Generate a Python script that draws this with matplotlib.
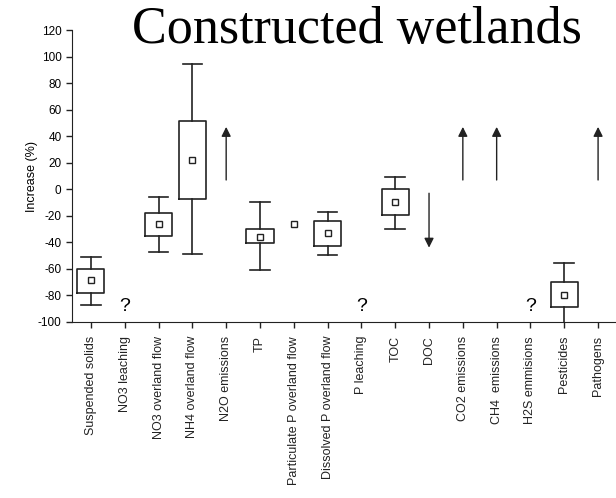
import numpy as np
import matplotlib
matplotlib.use("Agg")
import matplotlib.pyplot as plt

plt.rcParams["axes.unicode_minus"] = False

categories = ["Suspended solids", "NO3 leaching", "NO3 overland flow", "NH4 overland flow",
              "N2O emissions", "TP", "Particulate P overland flow", "Dissolved P overland flow",
              "P leaching", "TOC", "DOC", "CO2 emissions", "CH4  emissions", "H2S emmisions",
              "Pesticides", "Pathogens"]
purple = ["TP", "Particulate P overland flow", "Dissolved P overland flow",
          "P leaching", "Pesticides", "Pathogens"]

# box plot summaries (index, whisker low, q1, mean, q3, whisker high)
box_idx = [0, 2, 3, 5, 7, 9, 14]
whis_lo = [-87, -47, -49, -61, -49.5, -29.7, -105]
q1 = [-78, -35, -7, -40.7, -42.5, -19.6, -89]
mean = [-68.6, -26, 22, -36, -32.7, -9.8, -79.4]
q3 = [-59.8, -18, 51.7, -30, -23.6, 0, -69.6]
whis_hi = [-51, -5.8, 94.2, -9.6, -16.9, 9.5, -55.5]

# single value only
point_idx = [6]
point_val = [-26]

# trend arrows (start, tip)
arrow_idx = [4, 10, 11, 12, 15]
arrow_from = [7, -3, 7, 7, 7]
arrow_to = [47, -44, 47, 47, 47]

# unknown effect
unknown_idx = [1, 8, 13]
unknown_y = -88

fig = plt.figure(figsize=(6.16, 4.98), dpi=100)
ax = fig.add_axes([72/616, 1-322/498, 1-72/616, 292/498])

stats = []
for i in range(len(box_idx)):
    stats.append(dict(med=mean[i], mean=mean[i], q1=q1[i], q3=q3[i],
                      whislo=whis_lo[i], whishi=whis_hi[i], fliers=[]))
lp = dict(color="#222222", lw=1.2)
ax.bxp(stats, positions=box_idx, widths=0.8, showmeans=True, showfliers=False,
       boxprops=lp, whiskerprops=lp, capprops=lp, capwidths=0.58,
       medianprops=dict(lw=0),
       meanprops=dict(marker="s", markersize=5, markerfacecolor="white",
                      markeredgecolor="#222222", markeredgewidth=1))
ax.plot(point_idx, point_val, "s", ms=5, mfc="white", mec="#222222", mew=1)

for i, a, b in zip(arrow_idx, arrow_from, arrow_to):
    ax.annotate("", xy=(i, b), xytext=(i, a),
                arrowprops=dict(arrowstyle="-|>", color="#222222", lw=1,
                                mutation_scale=14, shrinkA=0, shrinkB=0))

for i in unknown_idx:
    ax.text(i, unknown_y, "?", ha="center", va="center", fontsize=14,
            family="Liberation Sans")

ax.set_xlim(-0.56, 15.53)
ax.set_ylim(-100, 120)
ax.set_yticks(np.arange(-100, 121, 20))
ax.set_xticks(range(len(categories)))
ax.set_xticklabels(categories, rotation=90, fontsize=9, family="Liberation Sans")
for lab in ax.get_xticklabels():
    if lab.get_text() in purple:
        lab.set_color("#4b1e78")
ax.tick_params(axis="y", labelsize=8.5, length=4, width=1, colors="#222222", labelcolor="black")
ax.tick_params(axis="x", length=4, width=1, pad=6, colors="#222222")
for lab in ax.get_yticklabels():
    lab.set_family("Liberation Sans")
ax.set_ylabel("Increase (%)", fontsize=9, family="Liberation Sans", labelpad=0)
ax.spines["top"].set_visible(False)
ax.spines["right"].set_visible(False)
ax.spines["left"].set_color("#222222")
ax.spines["bottom"].set_color("#222222")

fig.text(357/616, 1-30/498, "Constructed wetlands", ha="center", va="center",
         fontsize=37.5, family="Liberation Serif")

fig.savefig("out.png", dpi=100)
